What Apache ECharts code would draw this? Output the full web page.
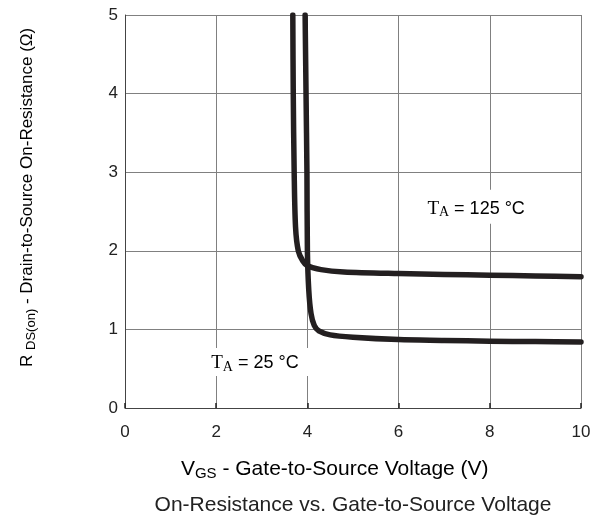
<!DOCTYPE html>
<html>
<head>
<meta charset="utf-8">
<script src="https://cdn.jsdelivr.net/npm/echarts@6/dist/echarts.min.js"></script>
<style>
  html, body { margin: 0; padding: 0; background: #fff; }
  #chart { width: 602px; height: 526px; }
</style>
</head>
<body>
<div id="chart"></div>
<script>
// Gate-to-source voltage (V) and on-resistance (Ω) samples
const vgs25  = [3.95, 3.97, 3.99, 4.00, 4.03, 4.08, 4.15, 4.25, 4.50, 5.00, 6.00, 7.00, 8.00, 9.00, 10.00];
const rds25  = [5.00, 4.00, 3.00, 2.00, 1.50, 1.20, 1.05, 0.98, 0.93, 0.90, 0.87, 0.86, 0.85, 0.845, 0.84];
const vgs125 = [3.68, 3.69, 3.71, 3.74, 3.80, 3.90, 4.00, 4.30, 4.80, 6.00, 7.00, 8.00, 9.00, 10.00];
const rds125 = [5.00, 4.00, 3.00, 2.30, 2.00, 1.87, 1.81, 1.76, 1.73, 1.71, 1.70, 1.69, 1.68, 1.67];

const xTicks = [0, 2, 4, 6, 8, 10];
const yTicks = [0, 1, 2, 3, 4, 5];

const pairs = (xs, ys) => xs.map((x, i) => [x, ys[i]]);

const FONT = '"Liberation Sans", Arial, sans-serif';
const SERIF = '"Liberation Serif", "Times New Roman", serif';
const INK = '#231f20';
const TEXT = '#222';

const chart = echarts.init(document.getElementById('chart'), null, { renderer: 'canvas' });

const curveStyle = { color: INK, width: 5.5, cap: 'round', join: 'round' };

chart.setOption({
  animation: false,
  backgroundColor: '#fff',
  grid: { left: 125, right: 21, top: 15, bottom: 118 },
  xAxis: {
    type: 'value',
    min: xTicks[0], max: xTicks[xTicks.length - 1], interval: 2,
    axisLine: { show: true, lineStyle: { color: '#444', width: 1 } },
    axisTick: { show: true, inside: true, length: 5, lineStyle: { color: '#222', width: 1.5 } },
    axisLabel: { fontFamily: FONT, fontSize: 17, color: TEXT, margin: 16 },
    splitLine: { show: true, lineStyle: { color: '#808080', width: 1 } }
  },
  yAxis: {
    type: 'value',
    min: yTicks[0], max: yTicks[yTicks.length - 1], interval: 1,
    axisLine: { show: true, lineStyle: { color: '#444', width: 1 } },
    axisTick: { show: false },
    axisLabel: { fontFamily: FONT, fontSize: 17, color: TEXT, margin: 7 },
    splitLine: { show: true, lineStyle: { color: '#808080', width: 1 } }
  },
  series: [
    {
      name: '125', type: 'line', data: pairs(vgs125, rds125),
      smooth: 0.3, showSymbol: false, lineStyle: curveStyle, z: 3
    },
    {
      name: '25', type: 'line', data: pairs(vgs25, rds25),
      smooth: 0.3, showSymbol: false, lineStyle: curveStyle, z: 3
    }
  ]
});

// Temperature labels, axis titles and caption
const px = (x, y) => chart.convertToPixel({ gridIndex: 0 }, [x, y]);
const labelRich = {
  t: { fontFamily: SERIF, fontSize: 19, color: '#444' },
  a: { fontFamily: SERIF, fontSize: 14, color: '#444', padding: [8, 0, 0, 0] },
  n: { fontFamily: FONT, fontSize: 18, color: TEXT }
};
const p125 = px(7.7, 2.56);
const p25 = px(2.85, 0.585);
const xTitle = px(4.6, 0);
const yTitle = px(0, 2.68);

chart.setOption({
  graphic: [
    {
      type: 'text', x: p125[0], y: p125[1], z: 10,
      style: {
        text: '{t|T}{a|A}{n| = 125 °C}', rich: labelRich,
        align: 'center', verticalAlign: 'middle',
        backgroundColor: '#fff', padding: [8, 6, 4, 6]
      }
    },
    {
      type: 'text', x: p25[0], y: p25[1], z: 10,
      style: {
        text: '{t|T}{a|A}{n| = 25 °C}', rich: labelRich,
        align: 'center', verticalAlign: 'middle',
        backgroundColor: '#fff', padding: [4, 12, 2, 12]
      }
    },
    {
      type: 'text', x: xTitle[0], y: 469, z: 10,
      style: {
        text: '{n|V}{s|GS}{n| - Gate-to-Source Voltage (V)}',
        rich: {
          n: { fontFamily: FONT, fontSize: 21, color: TEXT },
          s: { fontFamily: FONT, fontSize: 15, color: TEXT, padding: [9, 0, 0, 0] }
        },
        align: 'center', verticalAlign: 'middle'
      }
    },
    {
      type: 'text', x: 27, y: yTitle[1], z: 10, rotation: Math.PI / 2,
      style: {
        text: '{n|R }{s|DS(on)}{n| - Drain-to-Source On-Resistance (Ω)}',
        rich: {
          n: { fontFamily: FONT, fontSize: 17, color: TEXT },
          s: { fontFamily: FONT, fontSize: 13, color: TEXT, padding: [8, 0, 0, 0] }
        },
        align: 'center', verticalAlign: 'middle'
      }
    },
    {
      type: 'text', x: px(5, 0)[0], y: 505, z: 10,
      style: {
        text: 'On-Resistance vs. Gate-to-Source Voltage',
        fontFamily: FONT, fontSize: 21, fill: TEXT,
        align: 'center', verticalAlign: 'middle'
      }
    }
  ]
});
</script>
</body>
</html>
